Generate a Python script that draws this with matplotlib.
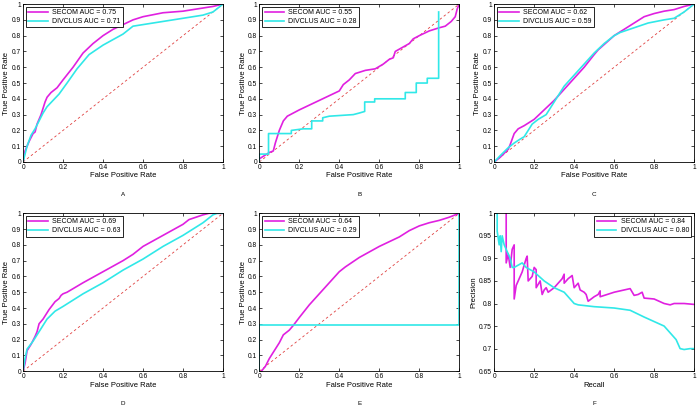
import numpy as np
import matplotlib
matplotlib.use('Agg')
import matplotlib.pyplot as plt
from matplotlib.ticker import FuncFormatter

plt.rcParams['font.family'] = ['Liberation Sans', 'DejaVu Sans']

MAG = '#e020e0'
CYA = '#30e8e8'

# panel A
a_sec_x = [0, 0.01, 0.03, 0.05, 0.06, 0.07, 0.09, 0.1, 0.11, 0.12, 0.14, 0.17, 0.2, 0.25, 0.3, 0.35, 0.4, 0.45, 0.5, 0.55, 0.6, 0.7, 0.8, 0.9, 0.95, 1]
a_sec_y = [0, 0.07, 0.13, 0.18, 0.19, 0.24, 0.3, 0.34, 0.38, 0.41, 0.44, 0.47, 0.52, 0.6, 0.69, 0.75, 0.8, 0.84, 0.87, 0.9, 0.92, 0.945, 0.955, 0.975, 0.985, 1]
a_div_x = [0, 0.02, 0.04, 0.06, 0.08, 0.1, 0.12, 0.15, 0.18, 0.22, 0.27, 0.33, 0.4, 0.5, 0.55, 0.6, 0.7, 0.8, 0.9, 0.95, 1]
a_div_y = [0, 0.1, 0.17, 0.21, 0.26, 0.31, 0.35, 0.39, 0.43, 0.5, 0.59, 0.68, 0.74, 0.81, 0.86, 0.87, 0.89, 0.91, 0.93, 0.95, 1]

# panel B
b_sec_x = [0, 0.05, 0.07, 0.08, 0.09, 0.1, 0.12, 0.14, 0.2, 0.3, 0.4, 0.42, 0.45, 0.48, 0.53, 0.58, 0.62, 0.65, 0.67, 0.68, 0.75, 0.77, 0.8, 0.85, 0.9, 0.93, 0.96, 0.98, 0.99, 1]
b_sec_y = [0.02, 0.06, 0.07, 0.12, 0.16, 0.2, 0.26, 0.29, 0.33, 0.39, 0.45, 0.49, 0.52, 0.56, 0.58, 0.59, 0.62, 0.65, 0.66, 0.7, 0.75, 0.78, 0.8, 0.83, 0.85, 0.86, 0.89, 0.92, 0.97, 1]
b_div_x = [0, 0, 0.046, 0.046, 0.16, 0.16, 0.22, 0.262, 0.262, 0.317, 0.317, 0.35, 0.47, 0.5, 0.527, 0.527, 0.577, 0.577, 0.73, 0.73, 0.785, 0.785, 0.84, 0.84, 0.897, 0.897]
b_div_y = [0, 0.05, 0.05, 0.18, 0.18, 0.2, 0.21, 0.21, 0.26, 0.26, 0.28, 0.29, 0.3, 0.31, 0.32, 0.38, 0.38, 0.4, 0.4, 0.44, 0.44, 0.5, 0.5, 0.53, 0.53, 0.95]

# panel C
c_sec_x = [0, 0.03, 0.07, 0.08, 0.1, 0.12, 0.15, 0.2, 0.25, 0.3, 0.35, 0.4, 0.45, 0.5, 0.52, 0.6, 0.65, 0.7, 0.75, 0.8, 0.85, 0.9, 0.95, 1]
c_sec_y = [0, 0.03, 0.08, 0.11, 0.18, 0.21, 0.23, 0.27, 0.33, 0.39, 0.46, 0.53, 0.6, 0.68, 0.71, 0.8, 0.84, 0.88, 0.92, 0.94, 0.955, 0.965, 0.985, 1]
c_div_x = [0, 0.03, 0.07, 0.1, 0.13, 0.15, 0.17, 0.19, 0.22, 0.26, 0.28, 0.32, 0.35, 0.4, 0.45, 0.5, 0.55, 0.6, 0.63, 0.7, 0.77, 0.85, 0.9, 0.95, 1]
c_div_y = [0, 0.04, 0.09, 0.12, 0.145, 0.16, 0.2, 0.24, 0.27, 0.3, 0.34, 0.42, 0.48, 0.55, 0.62, 0.69, 0.75, 0.8, 0.82, 0.85, 0.88, 0.9, 0.91, 0.95, 1]

# panel D
d_sec_x = [0, 0.01, 0.02, 0.04, 0.06, 0.07, 0.08, 0.1, 0.13, 0.16, 0.17, 0.18, 0.19, 0.2, 0.22, 0.3, 0.4, 0.5, 0.55, 0.6, 0.7, 0.8, 0.83, 0.9, 0.93, 1]
d_sec_y = [0, 0.05, 0.13, 0.17, 0.22, 0.25, 0.3, 0.33, 0.39, 0.44, 0.45, 0.46, 0.48, 0.49, 0.5, 0.56, 0.63, 0.7, 0.74, 0.79, 0.86, 0.93, 0.96, 0.99, 1, 1]
d_div_x = [0, 0.01, 0.02, 0.05, 0.08, 0.12, 0.16, 0.2, 0.3, 0.4, 0.5, 0.6, 0.7, 0.8, 0.9, 0.95, 0.97, 1]
d_div_y = [0, 0.08, 0.14, 0.19, 0.25, 0.33, 0.38, 0.41, 0.49, 0.56, 0.64, 0.71, 0.79, 0.86, 0.94, 0.99, 1, 1]

# panel E
e_sec_x = [0.01, 0.03, 0.05, 0.08, 0.1, 0.12, 0.15, 0.17, 0.2, 0.25, 0.3, 0.35, 0.4, 0.43, 0.5, 0.6, 0.7, 0.75, 0.8, 0.85, 0.9, 0.95, 1]
e_sec_y = [0, 0.03, 0.08, 0.14, 0.18, 0.23, 0.26, 0.29, 0.34, 0.42, 0.49, 0.56, 0.63, 0.66, 0.72, 0.79, 0.85, 0.89, 0.92, 0.94, 0.955, 0.975, 1]
e_div_x = [0, 0, 1, 1]
e_div_y = [0, 0.29, 0.29, 1]

# panel F (precision-recall)
f_sec_x = [0.06, 0.06, 0.07, 0.08, 0.09, 0.1, 0.1, 0.11, 0.12, 0.13, 0.14, 0.16, 0.165, 0.17, 0.19, 0.2, 0.21, 0.21, 0.23, 0.24, 0.25, 0.26, 0.27, 0.3, 0.33, 0.34, 0.35, 0.35, 0.37, 0.39, 0.4, 0.42, 0.43, 0.45, 0.46, 0.47, 0.5, 0.52, 0.53, 0.53, 0.6, 0.65, 0.68, 0.7, 0.72, 0.74, 0.75, 0.8, 0.85, 0.88, 0.9, 0.95, 1]
f_sec_y = [1.0, 0.89, 0.91, 0.88, 0.92, 0.93, 0.81, 0.84, 0.85, 0.86, 0.87, 0.9, 0.905, 0.85, 0.86, 0.88, 0.875, 0.835, 0.85, 0.82, 0.83, 0.835, 0.825, 0.835, 0.85, 0.855, 0.865, 0.845, 0.855, 0.862, 0.835, 0.845, 0.83, 0.825, 0.82, 0.805, 0.815, 0.82, 0.828, 0.815, 0.825, 0.83, 0.833, 0.818, 0.82, 0.825, 0.812, 0.81, 0.8, 0.797, 0.8, 0.8, 0.798]
f_div_x = [0.015, 0.015, 0.025, 0.03, 0.035, 0.04, 0.05, 0.06, 0.07, 0.08, 0.09, 0.1, 0.12, 0.14, 0.16, 0.2, 0.25, 0.3, 0.35, 0.4, 0.42, 0.5, 0.6, 0.68, 0.75, 0.8, 0.85, 0.88, 0.91, 0.93, 0.95, 0.98, 1]
f_div_y = [1.0, 0.96, 0.93, 0.95, 0.915, 0.95, 0.93, 0.92, 0.91, 0.9, 0.88, 0.88, 0.885, 0.89, 0.88, 0.87, 0.85, 0.835, 0.825, 0.8, 0.797, 0.793, 0.79, 0.785, 0.77, 0.76, 0.75, 0.735, 0.72, 0.70, 0.698, 0.7, 0.7]

panels = [
    ('A', a_sec_x, a_sec_y, a_div_x, a_div_y, '0.75', '0.71'),
    ('B', b_sec_x, b_sec_y, b_div_x, b_div_y, '0.55', '0.28'),
    ('C', c_sec_x, c_sec_y, c_div_x, c_div_y, '0.62', '0.59'),
    ('D', d_sec_x, d_sec_y, d_div_x, d_div_y, '0.69', '0.63'),
    ('E', e_sec_x, e_sec_y, e_div_x, e_div_y, '0.64', '0.29'),
    ('F', f_sec_x, f_sec_y, f_div_x, f_div_y, '0.84', '0.80'),
]

# axes rectangles in figure fractions
lefts = [0.033, 0.371, 0.707]
width = 0.286
bottoms = [0.602, 0.088]
height = 0.388


def fmt(v, pos):
    s = ('%.2f' % v).rstrip('0').rstrip('.')
    return s


fig = plt.figure(figsize=(6.99, 4.07), dpi=100)
for i, (name, sx, sy, dx, dy, sauc, dauc) in enumerate(panels):
    ax = fig.add_axes([lefts[i % 3], bottoms[i // 3], width, height])
    if name != 'F':
        ax.plot([0, 1], [0, 1], '--', color='#e04040', lw=0.6, dashes=(3, 3))
    ax.plot(sx, sy, color=MAG, lw=1.2, label='SECOM AUC = ' + sauc)
    ax.plot(dx, dy, color=CYA, lw=1.2, label='DIVCLUS AUC = ' + dauc)
    ax.set_xlim(0, 1)
    ax.set_xticks(np.arange(0, 1.01, 0.2))
    if name == 'F':
        ax.set_ylim(0.65, 1)
        ax.set_yticks(np.arange(0.65, 1.001, 0.05))
        ax.set_xlabel('Recall', fontsize=5.5, labelpad=1)
        ax.set_ylabel('Precision', fontsize=5.5, labelpad=1)
        loc = 'upper right'
    else:
        ax.set_ylim(0, 1)
        ax.set_yticks(np.arange(0, 1.01, 0.1))
        ax.set_xlabel('False Positive Rate', fontsize=5.5, labelpad=1)
        ax.set_ylabel('True Positive Rate', fontsize=5.5, labelpad=1)
        loc = 'upper left'
    ax.xaxis.set_major_formatter(FuncFormatter(fmt))
    ax.yaxis.set_major_formatter(FuncFormatter(fmt))
    ax.tick_params(direction='in', length=2, width=0.5, labelsize=4.8, pad=1.5,
                   top=True, right=True)
    for sp in ax.spines.values():
        sp.set_linewidth(0.6)
    leg = ax.legend(loc=loc, fontsize=5, fancybox=False, framealpha=1,
                    edgecolor='black', borderpad=0.35, handlelength=2.8,
                    labelspacing=0.25, handletextpad=0.6, borderaxespad=0.4)
    leg.get_frame().set_linewidth(0.6)
    ax.text(0.5, -0.19, name, transform=ax.transAxes, ha='center', va='top',
            fontsize=4.5)

fig.savefig('out.png', dpi=100)
